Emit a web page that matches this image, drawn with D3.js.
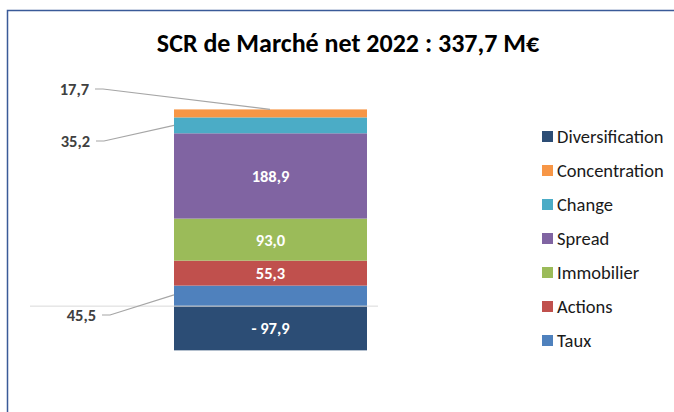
<!DOCTYPE html>
<html>
<head>
<meta charset="utf-8">
<script src="https://cdn.jsdelivr.net/npm/d3@7"></script>
<style>
  body { margin: 0; background: #fff; }
  svg { display: block; font-family: Carlito, "Open Sans", "Noto Sans", sans-serif; }
</style>
</head>
<body>
<div id="chart"></div>
<script>
// data (stack order bottom -> top)
const categories = ["Taux", "Actions", "Immobilier", "Spread", "Change", "Concentration", "Diversification"];
const values = [45.5, 55.3, 93.0, 188.9, 35.2, 17.7, -97.9];
const colors = ["#4F81BD", "#C0504D", "#9BBB59", "#8064A2", "#4BACC6", "#F79646", "#2C4D75"];
const legendOrder = ["Diversification", "Concentration", "Change", "Spread", "Immobilier", "Actions", "Taux"];
const title = "SCR de Marché net 2022 : 337,7 M€";

const width = 674, height = 412;
const fmt = v => (v < 0 ? "- " : "") + Math.abs(v).toFixed(1).replace(".", ",");
const valueOf = key => values[categories.indexOf(key)];

const svg = d3.select("#chart").append("svg")
    .attr("width", width)
    .attr("height", height);

// frame
svg.append("path")
    .attr("d", `M7.5,${height} V10.5 H${width}`)
    .attr("fill", "none")
    .attr("stroke", "#3A5A98")
    .attr("stroke-width", 1.5);

svg.append("text")
    .attr("x", 348)
    .attr("y", 52)
    .attr("text-anchor", "middle")
    .attr("font-size", 26)
    .attr("font-weight", "bold")
    .attr("fill", "#000")
    .text(title);

// scales
let row = { bar: "2022" };
categories.forEach((c, i) => row[c] = values[i]);

const y = d3.scaleLinear().domain([-100, 450]).range([351.3, 102.9]);
const color = d3.scaleOrdinal().domain(categories).range(colors);

const stack = d3.stack().keys(categories).offset(d3.stackOffsetDiverging);
const series = stack([row]);

// bar geometry
const barX = 174, barW = 193;

// zero line
svg.append("line")
    .attr("x1", 30).attr("x2", 378)
    .attr("y1", y(0)).attr("y2", y(0))
    .attr("stroke", "#D9D9D9")
    .attr("stroke-width", 1);

svg.append("g")
    .selectAll("rect")
    .data(series)
    .join("rect")
    .attr("x", barX)
    .attr("width", barW)
    .attr("y", d => y(Math.max(d[0][0], d[0][1])))
    .attr("height", d => Math.abs(y(d[0][0]) - y(d[0][1])))
    .attr("fill", d => color(d.key));

// zero line drawn over the bar
svg.append("line")
    .attr("x1", barX).attr("x2", barX + barW)
    .attr("y1", y(0)).attr("y2", y(0))
    .attr("stroke", "#D9D9D9")
    .attr("stroke-width", 1);

// labels inside
const inside = ["Actions", "Immobilier", "Spread", "Diversification"];
svg.append("g")
    .selectAll("text")
    .data(series.filter(s => inside.includes(s.key)))
    .join("text")
    .attr("x", barX + barW / 2)
    .attr("y", d => (y(d[0][0]) + y(d[0][1])) / 2 + 6)
    .attr("text-anchor", "middle")
    .attr("font-size", 16.5)
    .attr("font-weight", "bold")
    .attr("fill", "#fff")
    .text(d => fmt(valueOf(d.key)));

// labels outside with leader lines
const outside = {
    Concentration: { lx: 89, ly: 89, ax: () => 270, ay: s => y(s[0][1]) },
    Change: { lx: 90, ly: 141, ax: () => barX, ay: s => (y(s[0][0]) + y(s[0][1])) / 2 },
    Taux: { lx: 96, ly: 315, ax: () => barX, ay: s => (y(s[0][0]) + y(s[0][1])) / 2 - 1 }
};
series.filter(s => outside[s.key]).forEach(s => {
    const o = outside[s.key];
    svg.append("polyline")
        .attr("points", `${o.lx + 6},${o.ly} ${o.lx + 14},${o.ly} ${o.ax(s)},${o.ay(s)}`)
        .attr("fill", "none")
        .attr("stroke", "#A6A6A6")
        .attr("stroke-width", 1.2);
    svg.append("text")
        .attr("x", o.lx)
        .attr("y", o.ly + 6)
        .attr("text-anchor", "end")
        .attr("font-size", 16.5)
        .attr("font-weight", "bold")
        .attr("fill", "#404040")
        .text(fmt(valueOf(s.key)));
});

// legend
const legend = svg.append("g")
    .selectAll("g")
    .data(legendOrder)
    .join("g")
    .attr("transform", (d, i) => `translate(542, ${136 + i * 34})`);

legend.append("rect")
    .attr("x", 0).attr("y", -5)
    .attr("width", 11).attr("height", 11)
    .attr("fill", d => color(d));

legend.append("text")
    .attr("x", 15)
    .attr("y", 6.5)
    .attr("font-size", 18.5)
    .attr("fill", "#1a1a1a")
    .text(d => d);
</script>
</body>
</html>
